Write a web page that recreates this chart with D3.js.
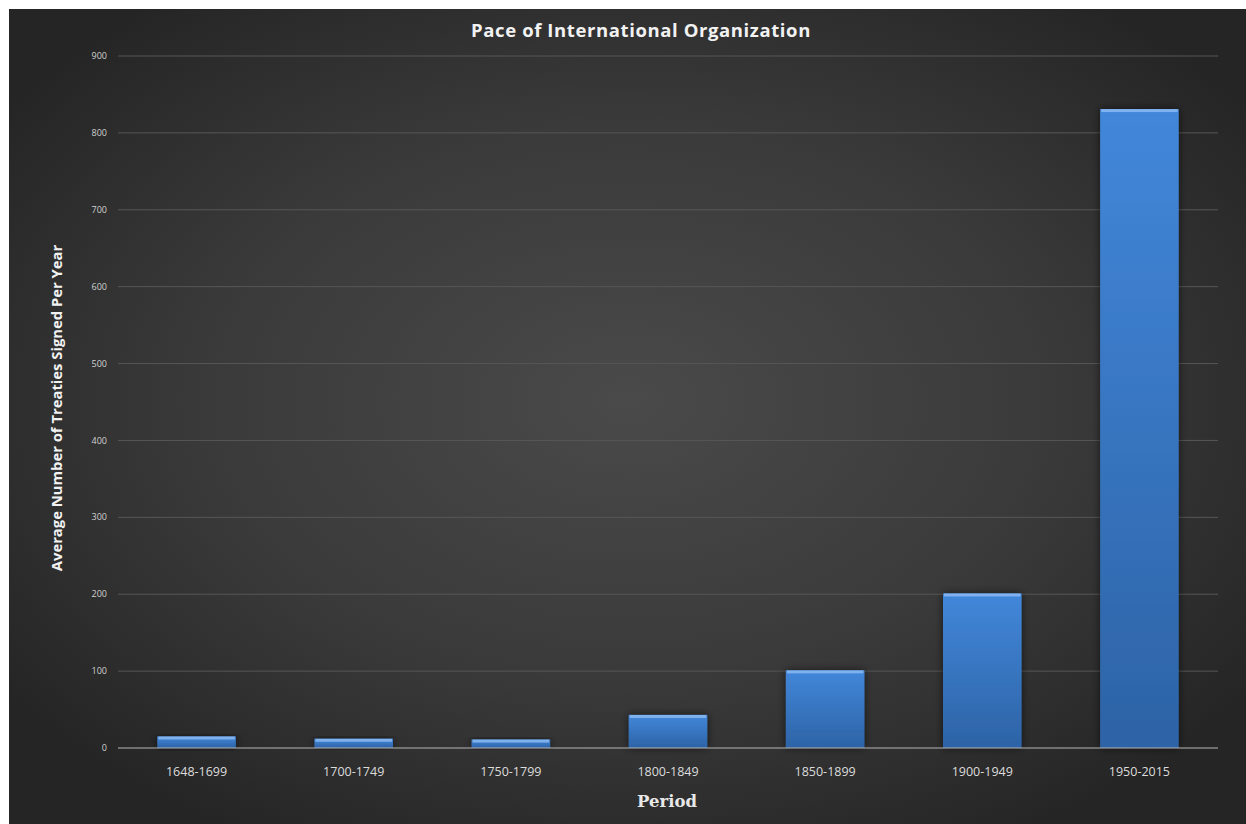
<!DOCTYPE html>
<html>
<head>
<meta charset="utf-8">
<script src="https://d3js.org/d3.v7.min.js"></script>
<style>
  body { margin: 0; background: #fff; }
  svg { display: block; }
</style>
</head>
<body>
<div id="chart"></div>
<script>
// data
const periods = ["1648-1699", "1700-1749", "1750-1799", "1800-1849", "1850-1899", "1900-1949", "1950-2015"];
const treaties = [15, 12, 11, 43, 101, 201, 831];
const yTicks = [0, 100, 200, 300, 400, 500, 600, 700, 800, 900];

const width = 1246, height = 824;
const margin = {top: 56, right: 28, bottom: 76, left: 118};

var svg = d3.select("#chart")
  .append("svg")
  .attr("width", width)
  .attr("height", height);

var defs = svg.append("defs");

// background glow
var bg = defs.append("radialGradient")
  .attr("id", "bgGrad")
  .attr("cx", "50%").attr("cy", "48%").attr("r", "62%");
bg.append("stop").attr("offset", "0%").attr("stop-color", "#4a4a4a");
bg.append("stop").attr("offset", "55%").attr("stop-color", "#3a3a3a");
bg.append("stop").attr("offset", "100%").attr("stop-color", "#252525");

var barGrad = defs.append("linearGradient")
  .attr("id", "barGrad")
  .attr("x1", "0").attr("x2", "0").attr("y1", "0").attr("y2", "1");
barGrad.append("stop").attr("offset", "0%").attr("stop-color", "#4287da");
barGrad.append("stop").attr("offset", "100%").attr("stop-color", "#2d63a6");

var shadow = defs.append("filter").attr("id", "barShadow")
  .attr("x", "-20%").attr("y", "-20%").attr("width", "140%").attr("height", "140%");
shadow.append("feGaussianBlur").attr("in", "SourceAlpha").attr("stdDeviation", 4).attr("result", "b");
shadow.append("feComponentTransfer").attr("in", "b").attr("result", "s")
  .append("feFuncA").attr("type", "linear").attr("slope", 0.6);
var fm = shadow.append("feMerge");
fm.append("feMergeNode").attr("in", "s");
fm.append("feMergeNode").attr("in", "SourceGraphic");

svg.append("rect")
  .attr("x", 9).attr("y", 9)
  .attr("width", width - 9).attr("height", height - 9)
  .attr("fill", "url(#bgGrad)");

var x = d3.scaleBand()
  .domain(periods)
  .range([margin.left, width - margin.right])
  .paddingInner(0.5)
  .paddingOuter(0.25);

var y = d3.scaleLinear()
  .domain([0, 900])
  .range([height - margin.bottom, margin.top]);

// gridlines
svg.append("g")
  .selectAll("line")
  .data(yTicks.filter(d => d > 0))
  .enter()
  .append("line")
  .attr("x1", margin.left)
  .attr("x2", width - margin.right)
  .attr("y1", d => y(d))
  .attr("y2", d => y(d))
  .attr("stroke", "#575757")
  .attr("stroke-width", 1);

// y tick labels
svg.append("g")
  .selectAll("text")
  .data(yTicks)
  .enter()
  .append("text")
  .attr("x", margin.left - 11)
  .attr("y", d => y(d))
  .attr("dy", "0.35em")
  .attr("text-anchor", "end")
  .attr("fill", "#d0d0d0")
  .style("font-family", "'Open Sans', sans-serif")
  .style("font-size", "9px")
  .text(d => d);

// bars
var bars = svg.append("g")
  .selectAll("g")
  .data(periods.map((p, i) => ({period: p, value: treaties[i]})))
  .enter()
  .append("g");

bars.append("rect")
  .attr("x", d => x(d.period))
  .attr("y", d => y(d.value))
  .attr("width", x.bandwidth())
  .attr("height", d => y(0) - y(d.value))
  .attr("fill", "url(#barGrad)")
  .attr("filter", "url(#barShadow)");

// top highlight
bars.append("rect")
  .attr("x", d => x(d.period) + 1)
  .attr("y", d => y(d.value))
  .attr("width", x.bandwidth() - 2)
  .attr("height", 3)
  .attr("fill", "#8fbdf2")
  .attr("opacity", 0.8);

// axis line
svg.append("line")
  .attr("x1", margin.left)
  .attr("x2", width - margin.right)
  .attr("y1", y(0))
  .attr("y2", y(0))
  .attr("stroke", "#b5b5b5")
  .attr("stroke-width", 1.2);

// x labels
svg.append("g")
  .selectAll("text")
  .data(periods)
  .enter()
  .append("text")
  .attr("x", d => x(d) + x.bandwidth() / 2)
  .attr("y", y(0) + 28)
  .attr("text-anchor", "middle")
  .attr("fill", "#dcdcdc")
  .style("font-family", "'Open Sans', sans-serif")
  .style("font-size", "12.5px")
  .text(d => d);

// titles
svg.append("text")
  .attr("x", 641)
  .attr("y", 37)
  .attr("text-anchor", "middle")
  .attr("fill", "#f2f2f2")
  .style("font-family", "'Open Sans', sans-serif")
  .style("font-weight", "bold")
  .style("font-size", "18.5px")
  .style("letter-spacing", "0.6px")
  .text("Pace of International Organization");

svg.append("text")
  .attr("transform", "translate(62," + ((y(0) + y(900)) / 2 + 6) + ") rotate(-90)")
  .attr("text-anchor", "middle")
  .attr("fill", "#f2f2f2")
  .style("font-family", "'Open Sans', sans-serif")
  .style("font-weight", "bold")
  .style("font-size", "14.8px")
  .text("Average Number of Treaties Signed Per Year");

svg.append("text")
  .attr("x", 667)
  .attr("y", 807)
  .attr("text-anchor", "middle")
  .attr("fill", "#e8e8e8")
  .style("font-family", "'DejaVu Serif', serif")
  .style("font-weight", "bold")
  .style("font-size", "16.5px")
  .text("Period");
</script>
</body>
</html>
